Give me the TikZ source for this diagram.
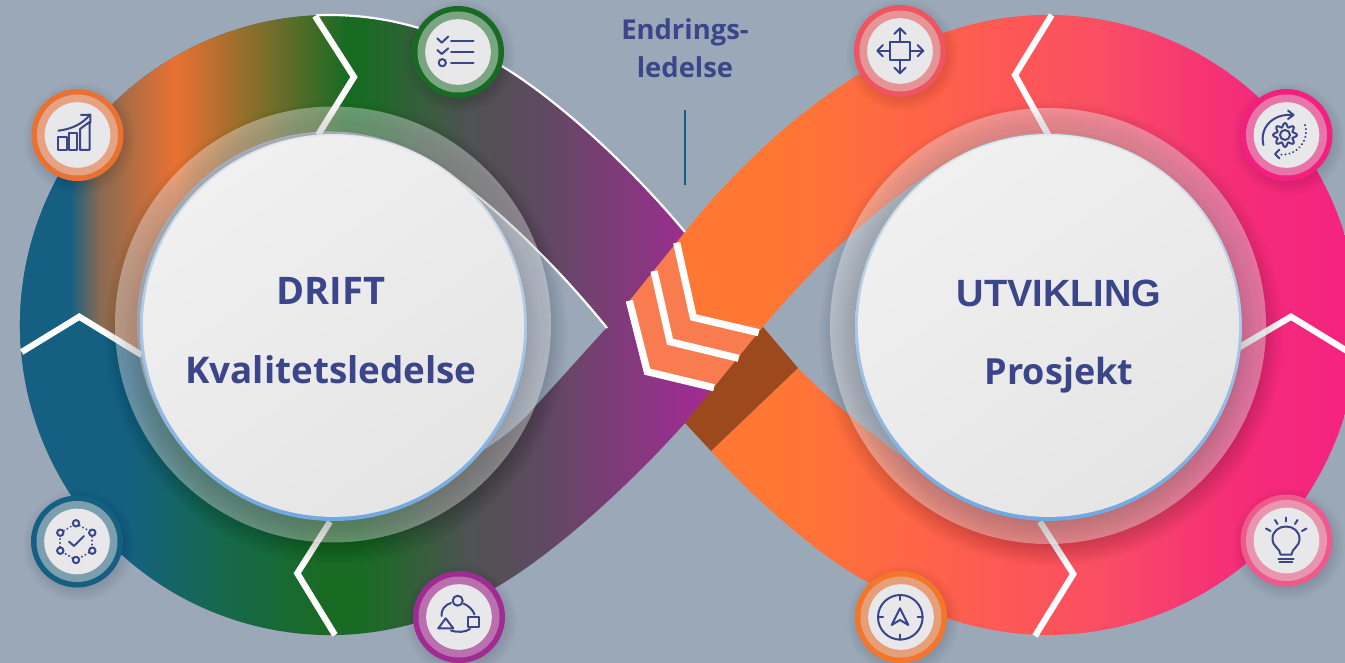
\documentclass[tikz,border=0pt]{standalone}
\usepackage{fontspec}
\setmainfont{Open Sans}
\newfontfamily\arialfont{Liberation Sans}
\definecolor{bgc}{HTML}{9BA8B8}
\definecolor{bluec}{HTML}{156082}
\definecolor{orangec}{HTML}{E97132}
\definecolor{greenc}{HTML}{196B24}
\definecolor{purplec}{HTML}{A02B93}
\definecolor{inkc}{HTML}{3B4589}
\definecolor{brownc}{HTML}{9C4A1D}
\definecolor{lightor}{HTML}{F97C50}
\definecolor{brownmix}{HTML}{8A6A52}
\definecolor{tealmix}{HTML}{166758}
\definecolor{graymix}{HTML}{4F5252}
\definecolor{plummix}{HTML}{5E4A60}
\definecolor{rA}{HTML}{FF7733}
\definecolor{rB}{HTML}{FD5955}
\definecolor{rC}{HTML}{F94E63}
\definecolor{rD}{HTML}{F52E78}
\definecolor{rE}{HTML}{F4237F}
\definecolor{rimTop}{HTML}{E4E7E9}
\definecolor{rimMid}{HTML}{D2DFEA}
\definecolor{rimBot}{HTML}{70A8E0}
\definecolor{faceA}{HTML}{F0F0F1}
\definecolor{faceB}{HTML}{E5E5E6}
\definecolor{midOrange}{HTML}{E5A383}
\definecolor{midGreen}{HTML}{7AA581}
\definecolor{midBlue}{HTML}{7C9FAF}
\definecolor{midPurple}{HTML}{BA70AE}
\definecolor{outMove}{HTML}{EF5560}
\definecolor{midMove}{HTML}{E59595}
\definecolor{outGear}{HTML}{F4207F}
\definecolor{midGear}{HTML}{E875A8}
\definecolor{outBulb}{HTML}{EE5A8C}
\definecolor{midBulb}{HTML}{E896B0}
\definecolor{outComp}{HTML}{F4762A}
\definecolor{midComp}{HTML}{E69F78}
\definecolor{iconFace}{HTML}{E8E8EA}
\pgfdeclarehorizontalshading{lefttop}{100bp}{color(0bp)=(bluec); color(27.6bp)=(bluec); color(28.72bp)=(brownmix); color(31.51bp)=(orangec); color(37.83bp)=(greenc); color(38.57bp)=(greenc); color(42.47bp)=(graymix); color(45.07bp)=(plummix); color(51.02bp)=(purplec); color(100bp)=(purplec)}
\pgfdeclarehorizontalshading{leftbottom}{100bp}{color(0bp)=(bluec); color(29.65bp)=(bluec); color(32.43bp)=(tealmix); color(36.9bp)=(greenc); color(38.57bp)=(greenc); color(42.47bp)=(graymix); color(45.07bp)=(plummix); color(51.02bp)=(purplec); color(100bp)=(purplec)}
\pgfdeclarehorizontalshading{rightband}{100bp}{color(0bp)=(rA); color(54bp)=(rA); color(62.18bp)=(rB); color(65.89bp)=(rC); color(70.73bp)=(rD); color(75bp)=(rE); color(100bp)=(rE)}
\tikzset{
  chev/.style={draw=white,line width=6.2pt,miter limit=10},
  midchev/.style={draw=white,line width=7.2pt,miter limit=10},
  edgeline/.style={draw=white,line width=2.2pt},
  icoline/.style={draw=inkc,line width=2pt,line cap=round,line join=round},
  txt/.style={text=inkc,anchor=base,inner sep=0pt},
}
\newcommand{\softshadow}[5]{% x y from next to
  \foreach \rr in {#3,#4,...,#5}{\fill[black,opacity=.015] (#1,#2) circle[radius=\rr];}}
\newcommand{\badge}[5]{% name x y outer mid
  \coordinate (#1) at (#2,#3);
  \softshadow{#2+2}{#3+4}{44}{46}{56}
  \fill[#4] (#1) circle[radius=46];
  \fill[#5] (#1) circle[radius=40.5];
  \fill[iconFace] (#1) circle[radius=32.8];}
\newcommand{\discstack}[5]{% ring x y, main x y, hub name
  \softshadow{#1+3}{#2+8}{210}{212}{232}
  \fill[white,opacity=.36] (#1,#2) circle[radius=218];
  \softshadow{#3}{#4+9}{186}{189}{207}
  \coordinate (#5) at (#3,#4);
  \shade[top color=rimTop,middle color=rimMid,bottom color=rimBot] (#5) circle[radius=193.5];
  \shade[top color=faceA,bottom color=faceB,shading angle=35] (#3,#4-1.2) circle[radius=190.6];}
\begin{document}
\begin{tikzpicture}[x=1pt,y=-1pt]
\useasboundingbox (0,0) rectangle (1345,663);
\clip (0,0) rectangle (1345,663);
\fill[bgc] (0,0) rectangle (1345,663);
% --- left lobe
\begin{scope}
  \clip (485,56.5) .. controls (545,88) and (625,160) .. (685,232) -- (713,392) -- (685,423)
     .. controls (625,490) and (545,562) .. (485,593.5)
     arc[start angle=60,end angle=300,radius=310] -- cycle;
  \shade[shading=leftbottom] (0,0) rectangle (1345,663);
  \clip (-5,-5) -- (-5,366) -- (21.7,352) -- (79.3,316.7) -- (141.7,355) -- (720,355) -- (720,-5) -- cycle;
  \shade[shading=lefttop] (0,0) rectangle (1345,663);
\end{scope}
\fill[bgc] (607,327) .. controls (560,270) and (505,215) .. (453,177)
   arc[start angle=310.3,end angle=48,radius=192]
   .. controls (490,447) and (512,432) .. (530,412) -- cycle;
% --- right lobe
\begin{scope}
  \clip (685,232) .. controls (750,150) and (830,85) .. (893,56.5)
     arc[start angle=-120,end angle=120,radius=310]
     .. controls (840,575) and (765,510) .. (711,451) -- (798,368) -- (763,327)
     -- (693.3,317.3) -- (676.7,242.7) -- cycle;
  \shade[shading=rightband] (0,0) rectangle (1345,663);
\end{scope}
\fill[bgc] (763,327) .. controls (800,283) and (880,195) .. (973.6,148)
   arc[start angle=-112.8,end angle=127,radius=192]
   .. controls (885,445) and (840,410) .. (798,368) -- cycle;
% --- crossing
\fill[lightor] (630,300) -- (685,232) -- (676.7,242.7) -- (693.3,317.3) -- (763,327) -- (713,392) -- (714,387.7) -- (647.3,371.7) -- cycle;
\fill[brownc] (763,327) -- (798,368) -- (711,451) -- (685,423) -- cycle;
\draw[midchev] (629.3,300.7) -- (647.3,371.7) -- (714,387.7);
\draw[midchev] (654,271) -- (670,341.7) -- (738.7,358.3);
\draw[midchev] (676.7,242.7) -- (693.3,317.3) -- (758.7,332.7);
% --- white edges
\draw[edgeline] (316.5,15.3) arc[start angle=-92.5,end angle=-60,radius=310]
   .. controls (545,88) and (625,160) .. (685,232);
\draw[edgeline] (607,328) .. controls (560,270) and (505,215) .. (453,177);
% --- chevrons
\draw[chev] (315,16) -- (354,77) -- (318,135);
\draw[chev] (21.7,352) -- (79.3,316.7) -- (141.7,355);
\draw[chev] (335,635) -- (297.3,573.3) -- (330,521.7);
\draw[chev] (1051.7,15) -- (1015,75) -- (1048.3,135);
\draw[chev] (1238,348) -- (1291,316.7) -- (1352,354);
\draw[chev] (1035,636) -- (1073.3,574) -- (1040,521.7);
% --- discs
\discstack{333}{324.5}{333.5}{327.5}{hubL}
\discstack{1048}{326}{1048.5}{327.5}{hubR}
% --- change line
\coordinate (lineTop) at (684.5,110);
\coordinate (lineEnd) at (684.5,185);
\draw[bluec,line width=2pt] (lineTop) -- (lineEnd);
% --- badges
\badge{bChart}{77.5}{135}{orangec}{midOrange}
\badge{bList}{458}{52}{greenc}{midGreen}
\badge{bNet}{77}{541.5}{bluec}{midBlue}
\badge{bShape}{459}{617}{purplec}{midPurple}
\badge{bMove}{900}{51}{outMove}{midMove}
\badge{bGear}{1286.5}{135}{outGear}{midGear}
\badge{bBulb}{1286.5}{540.5}{outBulb}{midBulb}
\badge{bComp}{901}{617}{outComp}{midComp}
% chart icon
\draw[icoline,line cap=butt] (58.3,136.7) rectangle (66.7,150);
\draw[icoline,line cap=butt] (69,133.3) rectangle (77.3,150);
\draw[icoline,line cap=butt] (80,129) -- (89.5,122) -- (89.5,150) -- (80,150) -- cycle;
\draw[icoline] (58.3,130.7) .. controls (72,129) and (82,124) .. (90,115);
\draw[icoline] (81,115) -- (90.3,114.7) -- (90.3,123);
% list icon
\draw[icoline] (437.3,38.3) -- (441.7,42.7) -- (448.3,36.5);
\draw[icoline] (437.3,50) -- (441.7,54) -- (448.3,48.3);
\draw[icoline] (442.3,62.7) circle[radius=3.6];
\draw[icoline] (451,41) -- (473.5,41);
\draw[icoline] (451,52.3) -- (473.5,52.3);
\draw[icoline] (451,63) -- (473.5,63);
% network icon
\foreach \px/\py in {76/523.3,92.3/532.7,92.3/550.7,76/560,60.3/550.7,60.3/532.7}
  {\draw[icoline] (\px,\py) circle[radius=3.2];}
\draw[icoline,dash pattern=on 0.3pt off 3.6pt] (79.5,525.5) -- (88.8,530.7);
\draw[icoline,dash pattern=on 0.3pt off 3.6pt] (92.3,536.5) -- (92.3,547);
\draw[icoline,dash pattern=on 0.3pt off 3.6pt] (88.8,552.7) -- (79.5,558);
\draw[icoline,dash pattern=on 0.3pt off 3.6pt] (72.5,558) -- (63.8,552.7);
\draw[icoline,dash pattern=on 0.3pt off 3.6pt] (60.3,547) -- (60.3,536.5);
\draw[icoline,dash pattern=on 0.3pt off 3.6pt] (63.8,530.7) -- (72.5,525.5);
\draw[icoline] (69,541.7) -- (74,546) -- (84,536);
% shapes icon
\draw[icoline] (457.7,600.7) circle[radius=5];
\draw[icoline,line cap=butt] (468.3,616.7) rectangle (479,626.7);
\draw[icoline] (438.3,628.3) -- (445.7,618.3) -- (453.3,628.3) -- cycle;
\draw[icoline] (463.5,603.5) .. controls (469,606) and (473,610) .. (474.5,614.5);
\draw[icoline] (470,629) .. controls (465,632.5) and (457,632.5) .. (451,630.5);
\draw[icoline] (441.5,616) .. controls (441,610) and (445,604.5) .. (451,603);
% move icon
\draw[icoline,line cap=butt] (890,41.7) rectangle (910,60);
\draw[icoline] (900,41.7) -- (900,28.5); \draw[icoline] (894.3,34) -- (900,28.3) -- (905.7,34);
\draw[icoline] (900,60) -- (900,73); \draw[icoline] (894.3,67.5) -- (900,73.3) -- (905.7,67.5);
\draw[icoline] (890,50.8) -- (877.5,50.8); \draw[icoline] (883,45) -- (877.3,50.8) -- (883,56.5);
\draw[icoline] (910,50.8) -- (923,50.8); \draw[icoline] (917.5,45) -- (923.3,50.8) -- (917.5,56.5);
% gear icon
\draw[icoline] plot[domain=0:360,samples=121] ({1285+(10+1.9*cos(8*\x))*cos(\x)},{135+(10+1.9*cos(8*\x))*sin(\x)}) -- cycle;
\draw[icoline] (1285,135) circle[radius=5];
\draw[icoline] (1263.5,145) .. controls (1259,128) and (1273,113) .. (1293,115);
\draw[icoline] (1288,110.5) -- (1293.5,115) -- (1288,119);
\draw[icoline,dash pattern=on 0.3pt off 3.7pt] (1305,125) .. controls (1310,140) and (1297,157) .. (1278,154.5);
\draw[icoline] (1279.5,149.5) -- (1275,154) -- (1279.5,158.5);
% bulb icon
\draw[icoline] (1280.5,554.5) .. controls (1280.5,548.5) and (1272.5,547) .. (1272.5,539)
  .. controls (1272.5,531) and (1279,526.5) .. (1286,526.5)
  .. controls (1293,526.5) and (1299.5,531) .. (1299.5,539)
  .. controls (1299.5,547) and (1291.5,548.5) .. (1291.5,554.5) -- cycle;
\draw[icoline] (1278.3,558.5) -- (1293.5,558.5);
\draw[icoline] (1279.3,561.7) -- (1292.3,561.7);
\draw[icoline] (1286,517.5) -- (1286,521.5);
\draw[icoline] (1275,520) -- (1277.5,524);
\draw[icoline] (1297.5,520) -- (1295,524);
\draw[icoline] (1266,528.5) -- (1270.5,531);
\draw[icoline] (1306.5,528.5) -- (1302,531);
% compass icon
\draw[icoline] (900.3,617.3) circle[radius=22.3];
\draw[icoline] (900.3,595) -- (900.3,600); \draw[icoline] (900.3,634.5) -- (900.3,639.6);
\draw[icoline] (878,617.3) -- (883,617.3); \draw[icoline] (917.5,617.3) -- (922.6,617.3);
\draw[icoline] (900,608.3) -- (891.7,625) -- (900,620) -- (908.3,625) -- cycle;
% --- texts
\node[txt,font=\bfseries\fontsize{27.4}{30}\selectfont] (tEnd1) at (685,40) {Endrings-};
\node[txt,font=\bfseries\fontsize{27.4}{30}\selectfont] (tEnd2) at (685,78) {ledelse};
\node[txt,font=\bfseries\fontsize{38}{40}\selectfont] (tDrift) at (331,304.5) {DRIFT};
\node[txt,font=\bfseries\fontsize{36.8}{40}\selectfont] (tKval) at (331,383) {Kvalitetsledelse};
\node[txt,font=\arialfont\bfseries\fontsize{38}{40}\selectfont] (tUtv) at (1059,306.7) {UTVIKLING};
\node[txt,font=\bfseries\fontsize{36}{40}\selectfont] (tPro) at (1059,384.5) {Prosjekt};
\end{tikzpicture}
\end{document}
